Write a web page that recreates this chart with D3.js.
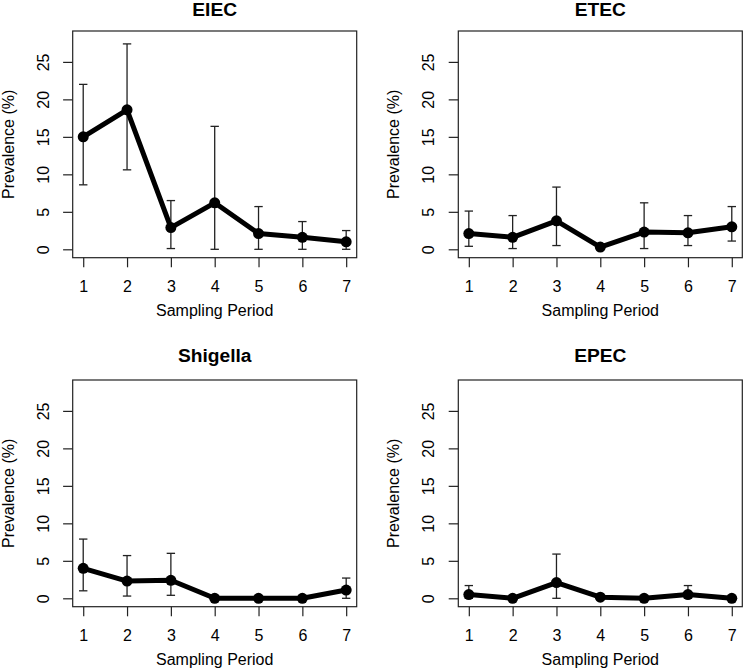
<!DOCTYPE html>
<html>
<head>
<meta charset="utf-8">
<script src="https://cdn.jsdelivr.net/npm/d3@7"></script>
<style>
  html, body { margin: 0; padding: 0; background: #fff; }
  svg { display: block; font-family: "Liberation Sans", Arial, Helvetica, sans-serif; }
</style>
</head>
<body>
<div id="chart"></div>
<script>
// sampling periods and the four pathotypes
const periods = [1, 2, 3, 4, 5, 6, 7];
const yTicks = [0, 5, 10, 15, 20, 25];
const panelTitles = ['EIEC', 'ETEC', 'Shigella', 'EPEC'];

// prevalence (%) with lower / upper 95% CI, null = no bar drawn
const eiecPrev  = [15.0, 18.6, 2.9, 6.2, 2.1, 1.6, 1.0];
const eiecLower = [8.6, 10.6, 0.1, 0.0, 0.0, 0.0, 0.0];
const eiecUpper = [22.0, 27.4, 6.5, 16.4, 5.7, 3.7, 2.5];

const etecPrev  = [2.1, 1.6, 3.8, 0.3, 2.3, 2.2, 3.0];
const etecLower = [0.4, 0.1, 0.5, null, 0.1, 0.5, 1.1];
const etecUpper = [5.1, 4.5, 8.3, null, 6.2, 4.5, 5.7];

const shigPrev  = [4.0, 2.3, 2.4, 0.0, 0.0, 0.0, 1.1];
const shigLower = [1.0, 0.3, 0.4, null, null, null, 0.0];
const shigUpper = [7.9, 5.7, 6.0, null, null, null, 2.7];

const epecPrev  = [0.5, 0.0, 2.1, 0.15, 0.0, 0.5, 0.0];
const epecLower = [0.0, null, 0.0, null, null, 0.0, null];
const epecUpper = [1.7, null, 5.9, null, null, 1.7, null];

const W = 743, H = 670,
      COL_X = [72.7, 458.3],
      ROW_Y = [31, 380],
      TITLE_DY = [-15, -18],
      PW = 284,
      PH = 226.7,
      TICK = 9.6,
      CAP = 4.2,
      INK = '#222';

const panels = [
  {tit: panelTitles[0], prev: eiecPrev, lo: eiecLower, hi: eiecUpper, col: 0, row: 0},
  {tit: panelTitles[1], prev: etecPrev, lo: etecLower, hi: etecUpper, col: 1, row: 0},
  {tit: panelTitles[2], prev: shigPrev, lo: shigLower, hi: shigUpper, col: 0, row: 1},
  {tit: panelTitles[3], prev: epecPrev, lo: epecLower, hi: epecUpper, col: 1, row: 1}
];

const svg = d3.select('#chart')
  .append('svg')
  .attr('width', W)
  .attr('height', H);

// R style: 4% padding around xlim c(1,7) and ylim c(0,28)
const x = d3.scaleLinear().domain([1 - 0.24, 7 + 0.24]).range([0, PW]);
const y = d3.scaleLinear().domain([-1.12, 29.12]).range([PH, 0]);

const drawPanel = p => {
  const g = svg.append('g')
    .attr('transform', `translate(${COL_X[p.col]},${ROW_Y[p.row]})`);

  // x axis
  const ax = g.append('g')
    .attr('transform', `translate(0,${PH})`)
    .call(d3.axisBottom(x).tickValues(periods).tickFormat(d3.format('d'))
      .tickSize(TICK).tickSizeOuter(0).tickPadding(13.5));
  ax.select('.domain').remove();
  ax.selectAll('line').attr('stroke', INK).attr('stroke-width', 1.2);
  ax.selectAll('text').attr('font-size', 16).attr('fill', '#000');

  // y axis, labels turned like R's las=0
  const ay = g.append('g')
    .call(d3.axisLeft(y).tickValues(yTicks).tickFormat(d3.format('d'))
      .tickSize(TICK).tickSizeOuter(0));
  ay.select('.domain').remove();
  ay.selectAll('line').attr('stroke', INK).attr('stroke-width', 1.2);
  ay.selectAll('text')
    .attr('font-size', 16)
    .attr('fill', '#000')
    .attr('text-anchor', 'middle')
    .attr('transform', 'rotate(-90)')
    .attr('x', 0)
    .attr('y', -24)
    .attr('dy', null);

  // box
  g.append('rect')
    .attr('width', PW)
    .attr('height', PH)
    .attr('fill', 'none')
    .attr('stroke', INK)
    .attr('stroke-width', 1.2);

  // titles
  g.append('text')
    .attr('x', PW / 2)
    .attr('y', TITLE_DY[p.row])
    .attr('text-anchor', 'middle')
    .attr('font-size', 19.2)
    .attr('font-weight', 'bold')
    .text(p.tit);
  g.append('text')
    .attr('x', PW / 2)
    .attr('y', PH + 58)
    .attr('text-anchor', 'middle')
    .attr('font-size', 16)
    .text('Sampling Period');
  g.append('text')
    .attr('transform', `translate(-59,${PH / 2}) rotate(-90)`)
    .attr('text-anchor', 'middle')
    .attr('font-size', 16)
    .text('Prevalence (%)');

  // error bars
  const bars = periods
    .map((d, i) => ({per: d, lo: p.lo[i], hi: p.hi[i]}))
    .filter(d => d.lo !== null && d.hi !== null);
  const eb = g.append('g')
    .attr('stroke', INK)
    .attr('stroke-width', 1.3)
    .selectAll('g')
    .data(bars)
    .enter()
    .append('g');
  eb.append('line')
    .attr('x1', d => x(d.per)).attr('x2', d => x(d.per))
    .attr('y1', d => y(d.lo)).attr('y2', d => y(d.hi));
  eb.append('line')
    .attr('x1', d => x(d.per) - CAP).attr('x2', d => x(d.per) + CAP)
    .attr('y1', d => y(d.hi)).attr('y2', d => y(d.hi));
  eb.append('line')
    .attr('x1', d => x(d.per) - CAP).attr('x2', d => x(d.per) + CAP)
    .attr('y1', d => y(d.lo)).attr('y2', d => y(d.lo));

  // line + points
  const line = d3.line()
    .x((d, i) => x(periods[i]))
    .y(d => y(d));
  g.append('path')
    .datum(p.prev)
    .attr('d', line)
    .attr('fill', 'none')
    .attr('stroke', '#000')
    .attr('stroke-width', 5)
    .attr('stroke-linejoin', 'round')
    .attr('stroke-linecap', 'round');
  g.selectAll('circle.pt')
    .data(p.prev)
    .enter()
    .append('circle')
    .attr('class', 'pt')
    .attr('cx', (d, i) => x(periods[i]))
    .attr('cy', d => y(d))
    .attr('r', 5.5)
    .attr('fill', '#000');
};

panels.forEach(drawPanel);
</script>
</body>
</html>
